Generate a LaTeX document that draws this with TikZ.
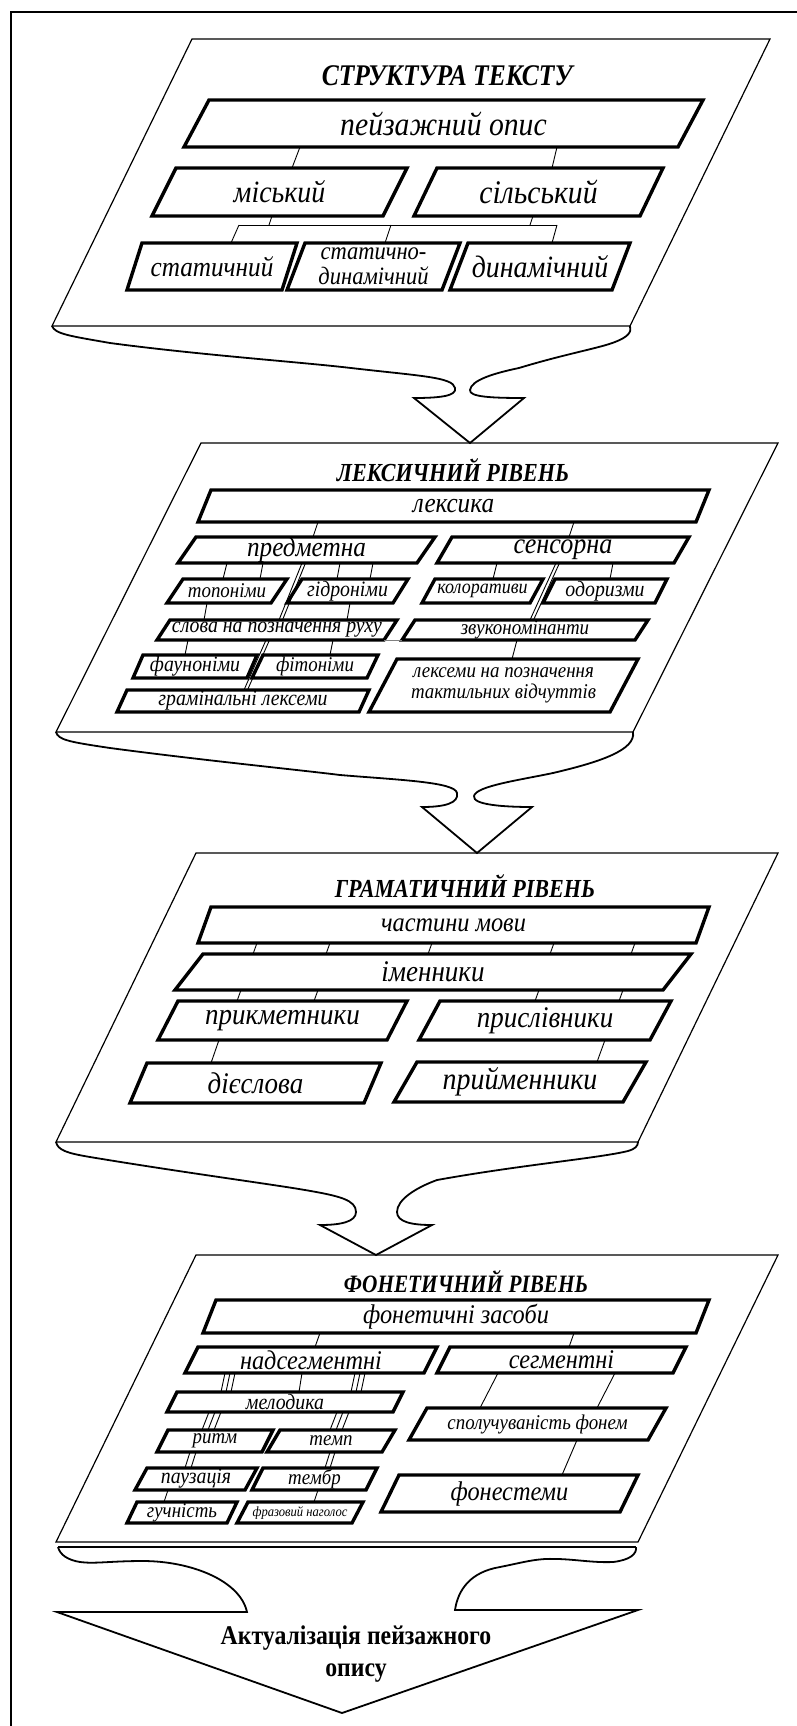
\documentclass[tikz,border=0pt]{standalone}
\usepackage{fontspec}
\setmainfont{Liberation Serif}
\newfontfamily\condf[FakeStretch=0.85]{Liberation Serif}
\newfontfamily\bodyf[FakeStretch=0.9]{Liberation Serif}
\newfontfamily\finf[FakeStretch=0.88]{Liberation Serif}
\usetikzlibrary{calc}
\tikzset{
  boxline/.style={line width=3.4pt, line join=miter},
  panelline/.style={line width=1.2pt, fill=white, line join=miter},
  conn/.style={line width=0.9pt},
  tailline/.style={line width=1.8pt, line join=miter},
  lbl/.style={inner sep=0pt, align=center},
  ttl/.style={inner sep=0pt, font=\condf\bfseries\itshape\fontsize{26}{28}\selectfont},
  fin/.style={inner sep=0pt, align=center, font=\finf\bfseries\fontsize{27}{32}\selectfont},
}
% name, TL x, TR x, top y, BL x, bottom y, font size, text
\newcommand{\pbox}[8]{%
  \coordinate (#1-tl) at (#2,#4);
  \coordinate (#1-tr) at (#3,#4);
  \coordinate (#1-bl) at (#5,#6);
  \coordinate (#1-br) at (#5+#3-#2,#6);
  \draw[boxline] (#1-tl) -- (#1-tr) -- (#1-br) -- (#1-bl) -- cycle;
  \node[lbl, font=\bodyf\itshape\fontsize{#7}{#7}\selectfont] (#1) at ($(#1-tl)!.5!(#1-br)$) {#8};
}
\newcommand{\panelshape}[6]{%
  \coordinate (#1-tl) at (#2,#4);
  \coordinate (#1-tr) at (#3,#4);
  \coordinate (#1-bl) at (#5,#6);
  \coordinate (#1-br) at (#5+#3-#2,#6);
  \draw[panelline] (#1-tl) -- (#1-tr) -- (#1-br) -- (#1-bl) -- cycle;
}
\newcommand{\cn}[4]{\draw[conn] (#2,0 |- #1-bl) -- (#4,0 |- #3-tl);}
\begin{document}
\begin{tikzpicture}[x=1pt,y=-1pt]
\useasboundingbox (0,0) rectangle (797,1726);
\fill[white] (0,0) rectangle (797,1726);
\draw[line width=2pt] (11,1726) -- (11,12) -- (797,12);

% ---------------- panels
\panelshape{P1}{192}{770}{39}{52}{326}
\panelshape{P2}{201}{778}{443}{56}{732}
\panelshape{P3}{196}{778}{853}{56}{1142}
\panelshape{P4}{196}{778}{1255}{56}{1542}
\draw[line width=1.2pt] (58,1547) -- (636,1547);

% ---------------- tails and arrows
\draw[tailline] (P1-bl) .. controls (55,334) and (70,336) .. (110,343)
  .. controls (200,355) and (300,362) .. (351,368)
  .. controls (420,376) and (453,377) .. (455,388)
  .. controls (457,396) and (440,398) .. (414,398)
  -- (470,0 |- P2-tl) -- (524,398)
  .. controls (492,398) and (469,397) .. (470,390)
  .. controls (471,380) and (495,373) .. (519,368)
  .. controls (565,354) and (600,348) .. (615,342)
  .. controls (628,337) and (632,332) .. (P1-br);
\draw[tailline] (P2-bl) .. controls (58,740) and (70,742) .. (110,748)
  .. controls (200,760) and (300,770) .. (340,775)
  .. controls (400,780) and (455,782) .. (457,793)
  .. controls (459,803) and (445,807) .. (422,807)
  -- (477,0 |- P3-tl) -- (532,807)
  .. controls (505,807) and (472,805) .. (474,796)
  .. controls (476,786) and (520,780) .. (553,773)
  .. controls (600,762) and (636,750) .. (P2-br);
\draw[tailline] (P3-bl) .. controls (58,1150) and (66,1153) .. (90,1157)
  .. controls (180,1172) and (270,1184) .. (305,1190)
  .. controls (340,1196) and (356,1200) .. (356,1212)
  .. controls (356,1222) and (340,1225) .. (320,1225)
  -- (376,0 |- P4-tl) -- (432,1225)
  .. controls (412,1225) and (397,1222) .. (397,1212)
  .. controls (397,1200) and (415,1188) .. (437,1180)
  .. controls (520,1165) and (600,1158) .. (628,1151)
  .. controls (635,1149) and (638,1146) .. (P3-br);
\coordinate (tip) at (342,1713);
\draw[tailline] (58,1547) .. controls (60,1555) and (68,1560) .. (80,1562)
  .. controls (95,1564) and (110,1561) .. (143,1561)
  .. controls (190,1561) and (240,1580) .. (247,1612)
  -- (57,1612) -- (tip) -- (638,1610) -- (455,1610)
  .. controls (458,1590) and (470,1572) .. (500,1567)
  .. controls (520,1563) and (530,1560) .. (545,1559)
  .. controls (570,1558) and (590,1563) .. (613,1562)
  .. controls (630,1560) and (637,1554) .. (636,1547);

% ---------------- titles
\node[ttl, font=\condf\bfseries\itshape\fontsize{30}{32}\selectfont] (t1) at (447,76) {СТРУКТУРА ТЕКСТУ};
\node[ttl] (t2) at (453,470) {ЛЕКСИЧНИЙ РІВЕНЬ};
\node[ttl] (t3) at (465,886) {ГРАМАТИЧНИЙ РІВЕНЬ};
\node[ttl, font=\condf\bfseries\itshape\fontsize{25}{27}\selectfont] (t4) at (466,1282) {ФОНЕТИЧНИЙ РІВЕНЬ};

% ---------------- panel 1
\pbox{pa}{209}{703}{100}{184}{147}{33}{пейзажний опис}
\pbox{mi}{176}{407}{168}{152}{216}{31}{міський}
\pbox{si}{437}{663}{168}{414}{216}{33}{сільський}
\pbox{st}{142}{297}{243}{127}{290}{28}{статичний}
\pbox{sd}{305}{460}{243}{287}{290}{25}{статично-\\динамічний}
\pbox{dy}{468}{630}{243}{450}{290}{31}{динамічний}
\cn{pa}{300}{mi}{292}
\cn{pa}{557}{si}{552}
\coordinate (b1) at (239,225);
\coordinate (b2) at (391,225);
\coordinate (b3) at (557,225);
\draw[conn] (272,0 |- mi-bl) -- (269,0 |- b1);
\draw[conn] (533,0 |- si-bl) -- (530,0 |- b1);
\draw[conn] (b1) -- (b3);
\draw[conn] (b1) -- (231,0 |- st-tl);
\draw[conn] (b2) -- (385,0 |- sd-tl);
\draw[conn] (b3) -- (552,0 |- dy-tl);

% ---------------- panel 2
\pbox{lx}{211}{709}{490}{198}{522}{28}{лексика}
\pbox{pr}{196}{435}{537}{178}{563}{28}{предметна}
\pbox{se}{452}{689}{537}{437}{563}{29}{сенсорна}
\pbox{tp}{183}{287}{579}{167}{603}{21}{топоніми}
\pbox{gd}{302}{408}{579}{287}{603}{22}{гідроніми}
\pbox{ko}{435}{543}{579}{422}{603}{20}{колоративи}
\pbox{od}{555}{667}{579}{543}{603}{22}{одоризми}
\pbox{ru}{170}{397}{620}{157}{640}{22}{слова на позначення руху}
\pbox{zv}{415}{648}{620}{402}{640}{21}{звукономінанти}
\pbox{fa}{143}{257}{655}{133}{678}{22}{фауноніми}
\pbox{fi}{263}{378}{655}{252}{678}{21}{фітоніми}
\pbox{gr}{127}{369}{690}{117}{712}{22}{грамінальні лексеми}
\pbox{tk}{397}{638}{659}{369}{712}{21}{лексеми на позначення\\тактильних відчуттів}
\cn{lx}{318}{pr}{313}
\cn{lx}{574}{se}{569}
\cn{pr}{227}{tp}{223}
\cn{pr}{263}{tp}{260}
\cn{pr}{340}{gd}{337}
\cn{pr}{373}{gd}{370}
\cn{pr}{302}{ru}{279}
\cn{pr}{305.5}{ru}{282.5}
\cn{tp}{207}{ru}{204}
\cn{gd}{350}{ru}{347}
\cn{ru}{188}{fa}{185}
\cn{ru}{333}{fi}{330}
\cn{ru}{266}{gr}{244}
\cn{ru}{269.5}{gr}{247.5}
\cn{se}{497}{ko}{493}
\cn{se}{613}{od}{610}
\cn{se}{556}{zv}{530}
\cn{se}{559.5}{zv}{533.5}
\cn{zv}{517}{tk}{512}
\draw[conn, gray] (ru-br) -- (zv-bl);

% ---------------- panel 3
\pbox{cm}{211}{709}{907}{198}{943}{27}{частини мови}
\pbox{im}{203}{691}{954}{175}{990}{30}{іменники}
\pbox{pk}{178}{407}{1001}{158}{1040}{30}{прикметники}
\pbox{ps}{440}{671}{1001}{419}{1040}{30}{прислівники}
\pbox{di}{147}{381}{1063}{130}{1103}{30}{дієслова}
\pbox{pm}{417}{646}{1062}{394}{1102}{31}{прийменники}
\cn{cm}{257}{im}{253}
\cn{cm}{330}{im}{326}
\cn{cm}{432}{im}{428}
\cn{cm}{554}{im}{550}
\cn{cm}{635}{im}{631}
\cn{im}{241}{pk}{237}
\cn{im}{318}{pk}{314}
\cn{im}{539}{ps}{535}
\cn{im}{623}{ps}{619}
\cn{pk}{219}{di}{211}
\cn{ps}{605}{pm}{597}

% ---------------- panel 4
\pbox{fz}{216}{709}{1300}{203}{1333}{27}{фонетичні засоби}
\pbox{nd}{198}{437}{1347}{185}{1373}{27}{надсегментні}
\pbox{sg}{450}{686}{1347}{437}{1373}{27}{сегментні}
\pbox{ml}{177}{403}{1392}{167}{1412}{22}{мелодика}
\pbox{rt}{168}{273}{1430}{157}{1452}{21}{ритм}
\pbox{tm}{280}{395}{1430}{267}{1452}{21}{темп}
\pbox{pz}{147}{257}{1468}{135}{1490}{22}{паузація}
\pbox{tb}{263}{377}{1468}{252}{1490}{21}{тембр}
\pbox{gu}{137}{237}{1502}{127}{1523}{21}{гучність}
\pbox{fr}{248}{363}{1502}{237}{1523}{14}{фразовий наголос}
\pbox{sp}{427}{666}{1408}{409}{1440}{21}{сполучуваність фонем}
\pbox{fn}{399}{638}{1475}{381}{1512}{27}{фонестеми}
\cn{fz}{320}{nd}{315}
\cn{fz}{574}{sg}{569}
\cn{nd}{225}{ml}{221}
\cn{nd}{230}{ml}{226}
\cn{nd}{235}{ml}{231}
\cn{nd}{302}{ml}{299}
\cn{nd}{355}{ml}{351}
\cn{nd}{360}{ml}{356}
\cn{nd}{365}{ml}{361}
\cn{ml}{209}{rt}{202}
\cn{ml}{215}{rt}{208}
\cn{ml}{221}{rt}{214}
\cn{ml}{337}{tm}{330}
\cn{ml}{343}{tm}{336}
\cn{ml}{349}{tm}{342}
\cn{rt}{190}{pz}{185}
\cn{rt}{196}{pz}{191}
\cn{tm}{330}{tb}{325}
\cn{tm}{335}{tb}{330}
\cn{pz}{168}{gu}{164}
\cn{tb}{318}{fr}{314}
\cn{sg}{498}{sp}{480}
\cn{sg}{615}{sp}{597}
\cn{sp}{577}{fn}{562}

% ---------------- final
\node[fin] (act) at (356,1654) {Актуалізація пейзажного\\опису};
\end{tikzpicture}
\end{document}
